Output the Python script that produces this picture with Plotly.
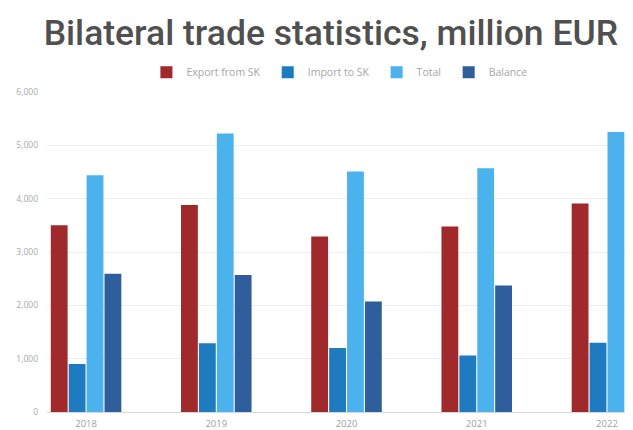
import plotly.graph_objects as go

years = ["2018", "2019", "2020", "2021", "2022"]
export_sk = [3500, 3880, 3290, 3480, 3910]
import_sk = [900, 1290, 1200, 1060, 1300]
total = [4440, 5220, 4510, 4570, 5250]
balance = [2590, 2570, 2070, 2370, 2590]

series_names = ["Export from SK", "Import to SK", "Total", "Balance"]
series_values = [export_sk, import_sk, total, balance]
series_colors = ["#A0292C", "#1E7BC0", "#4BB2EE", "#2F5E9C"]

pad = "\u00a0"
fig = go.Figure()
for i, (name, vals, col) in enumerate(zip(series_names, series_values, series_colors)):
    fig.add_trace(go.Bar(x=list(range(len(years))), y=vals,
                         name=name + (pad if i < 3 else ""),
                         marker=dict(color=col, line=dict(width=0))))

fig.update_layout(
    width=633, height=430,
    margin=dict(l=37, r=8, t=84, b=21),
    paper_bgcolor="white", plot_bgcolor="white",
    barmode="group", bargap=0.45, bargroupgap=0.06,
    font=dict(family="Open Sans, sans-serif", color="#9a9a9a", size=9),
    title=dict(text="Bilateral trade statistics, million EUR",
               x=0.51, xanchor="center", y=0.942, yanchor="middle",
               font=dict(family="Roboto", size=35.5, color="#505050", weight=500)),
    legend=dict(orientation="h", x=0.499, xanchor="center", y=1.062, yanchor="middle",
                font=dict(size=10.5, color="#a6a6a6"), itemwidth=30,
                traceorder="normal"),
    showlegend=True,
)
fig.update_xaxes(range=[-0.3, 4.2], tickmode="array", tickvals=list(range(len(years))),
                 ticktext=years, showgrid=False, showline=False, zeroline=False,
                 ticks="", ticklabelstandoff=4, tickfont=dict(size=9.5, color="#a0a0a0"))
fig.update_yaxes(range=[0, 6000], tickvals=[0, 1000, 2000, 3000, 4000, 5000, 6000],
                 tickformat=",d", showgrid=True, gridcolor="#ededed", gridwidth=1,
                 zeroline=True, zerolinecolor="#d8d8d8", zerolinewidth=1,
                 ticks="", ticklabelstandoff=8, tickfont=dict(size=8.5, color="#a8a8a8"))

fig.write_html("out.html")
